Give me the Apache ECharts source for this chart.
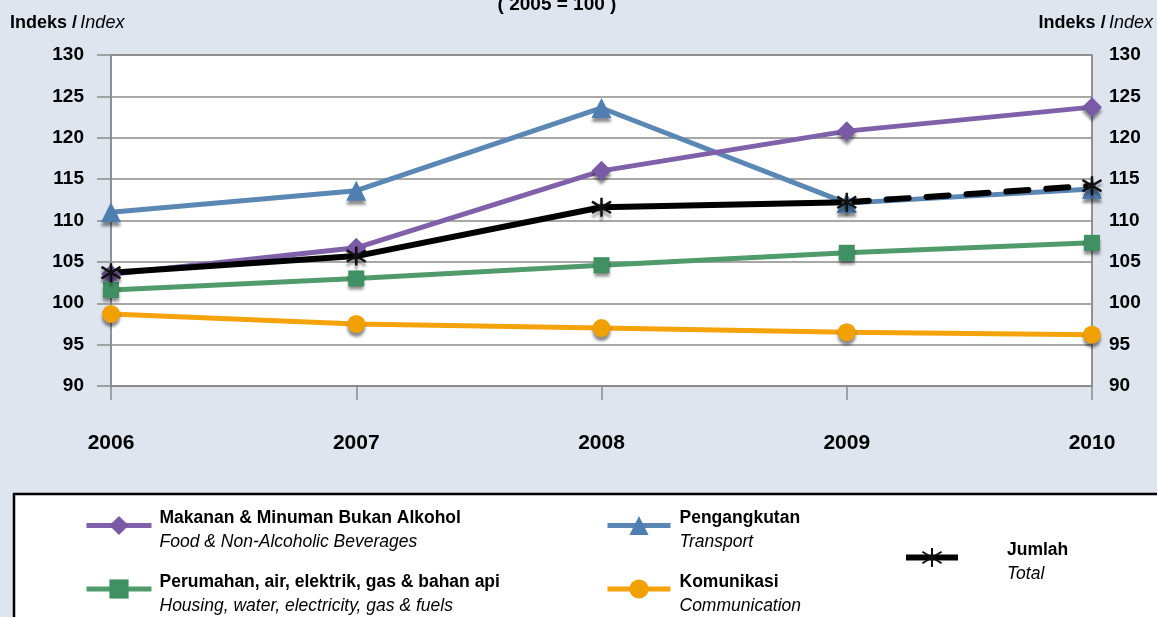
<!DOCTYPE html>
<html>
<head>
<meta charset="utf-8">
<script src="https://cdn.jsdelivr.net/npm/echarts@6/dist/echarts.min.js"></script>
<style>
html,body{margin:0;padding:0;background:#dee5ef;}
#c{width:1157px;height:617px;}
</style>
</head>
<body>
<div id="c"></div>
<script>
const categories = ['2006', '2007', '2008', '2009', '2010'];
const foodValues = [103.5, 106.7, 116.0, 120.8, 123.7];
const transportValues = [111.0, 113.6, 123.6, 112.1, 113.8];
const housingValues = [101.6, 103.0, 104.6, 106.1, 107.3];
const commValues = [98.7, 97.5, 97.0, 96.5, 96.2];
const totalValues = [103.7, 105.7, 111.6, 112.2, 114.2];
const yMin = 90, yMax = 130, yStep = 5;

const names = {
  food: 'Makanan & Minuman Bukan Alkohol',
  housing: 'Perumahan, air, elektrik, gas & bahan api',
  transport: 'Pengangkutan',
  comm: 'Komunikasi',
  total: 'Jumlah'
};
const english = {};
english[names.food] = 'Food & Non-Alcoholic Beverages';
english[names.housing] = 'Housing, water, electricity, gas & fuels';
english[names.transport] = 'Transport';
english[names.comm] = 'Communication';
english[names.total] = 'Total';

const FONT = '"Liberation Sans", Arial, sans-serif';
const shadow = {shadowColor: 'rgba(0,0,0,0.45)', shadowBlur: 3, shadowOffsetY: 4};
const starPath = 'path://M10,0L10,20M2,4L18,16M2,16L18,4';

function legendCfg(data, left, top, itemWidth, textPad) {
  return {
    data: data, orient: 'vertical', left: left, top: top, padding: 0,
    itemWidth: itemWidth, itemHeight: 24, itemGap: 13,
    lineStyle: {width: 'inherit'},
    formatter: n => '{s| }\n{b|' + n + '}\n{i|' + english[n] + '}',
    textStyle: {
      padding: [0, 0, 0, textPad],
      rich: {
        s: {fontSize: 1, lineHeight: 10},
        b: {fontFamily: FONT, fontWeight: 'bold', fontSize: 17.5, lineHeight: 24, color: '#000'},
        i: {fontFamily: FONT, fontStyle: 'italic', fontSize: 17.5, lineHeight: 24, color: '#000'}
      }
    }
  };
}

const chart = echarts.init(document.getElementById('c'), null, {renderer: 'canvas'});
chart.setOption({
  backgroundColor: '#dee5ef',
  animation: false,
  textStyle: {fontFamily: FONT},
  grid: {left: 111, right: 65, top: 55, bottom: 231, show: true, backgroundColor: '#ffffff', borderColor: '#8a8a8a', borderWidth: 1.5},
  graphic: [
    {type: 'rect', z: 0, shape: {x: 14, y: 494, width: 1200, height: 200}, style: {fill: '#ffffff', stroke: '#000', lineWidth: 2.5}},
    {type: 'text', x: 557, y: 5, style: {text: '( 2005 = 100 )', font: 'bold 19px ' + FONT, fill: '#000', align: 'center', verticalAlign: 'middle'}},
    {type: 'text', x: 10, y: 23, style: {text: '{b|Indeks /} {i|Index}', align: 'left', verticalAlign: 'middle',
      rich: {b: {fontFamily: FONT, fontWeight: 'bold', fontSize: 18, color: '#000'}, i: {fontFamily: FONT, fontStyle: 'italic', fontSize: 18, color: '#000'}}}},
    {type: 'text', x: 1153, y: 23, style: {text: '{b|Indeks /} {i|Index}', align: 'right', verticalAlign: 'middle',
      rich: {b: {fontFamily: FONT, fontWeight: 'bold', fontSize: 18, color: '#000'}, i: {fontFamily: FONT, fontStyle: 'italic', fontSize: 18, color: '#000'}}}}
  ],
  legend: [
    legendCfg([names.food, names.housing], 84, 501, 65, 3),
    legendCfg([names.transport, names.comm], 605, 501, 63, 4),
    legendCfg([names.total], 903, 533, 52, 44)
  ],
  xAxis: {
    type: 'category', data: categories, boundaryGap: false,
    axisLine: {lineStyle: {color: '#8a8a8a', width: 1.5}},
    axisTick: {show: true, length: 14, lineStyle: {color: '#8a8a8a', width: 1.5}},
    axisLabel: {margin: 47, fontSize: 21, fontWeight: 'bold', color: '#000', fontFamily: FONT}
  },
  yAxis: [
    {
      type: 'value', min: yMin, max: yMax, interval: yStep, position: 'left',
      axisLine: {show: true, lineStyle: {color: '#8a8a8a', width: 1.5}},
      axisTick: {show: true, length: 14, lineStyle: {color: '#8a8a8a', width: 1.5}},
      splitLine: {show: true, lineStyle: {color: '#8a8a8a', width: 1.5}},
      axisLabel: {margin: 27, fontSize: 19, fontWeight: 'bold', color: '#000', fontFamily: FONT}
    },
    {
      type: 'value', min: yMin, max: yMax, interval: yStep, position: 'right',
      axisLine: {show: true, lineStyle: {color: '#8a8a8a', width: 1.5}},
      axisTick: {show: false},
      splitLine: {show: false},
      axisLabel: {margin: 17, fontSize: 19, fontWeight: 'bold', color: '#000', fontFamily: FONT}
    }
  ],
  series: [
    {name: names.transport, type: 'line', data: transportValues, symbol: 'triangle', symbolSize: 20,
      lineStyle: {color: '#5b87b5', width: 5}, itemStyle: Object.assign({color: '#4f7eb0'}, shadow), color: '#5b87b5'},
    {name: names.food, type: 'line', data: foodValues, symbol: 'diamond', symbolSize: 20,
      lineStyle: {color: '#7f60a9', width: 5}, itemStyle: Object.assign({color: '#7a59a6'}, shadow), color: '#7f60a9'},
    {name: names.housing, type: 'line', data: housingValues, symbol: 'rect', symbolSize: 16,
      lineStyle: {color: '#4f9b6c', width: 5}, itemStyle: Object.assign({color: '#3f9164'}, shadow), color: '#4f9b6c'},
    {name: names.comm, type: 'line', data: commValues, symbol: 'circle', symbolSize: 18,
      lineStyle: {color: '#f5a30b', width: 5}, itemStyle: Object.assign({color: '#f0a000'}, shadow), color: '#f5a30b'},
    {name: names.total, type: 'line', data: totalValues.map((v, i) => i <= 3 ? v : null), symbol: starPath, symbolSize: 19,
      lineStyle: {color: '#000', width: 6}, itemStyle: Object.assign({color: '#000', borderColor: '#111', borderWidth: 2.5}, shadow), color: '#000'},
    {name: names.total + ' ', type: 'line', data: totalValues.map((v, i) => i >= 3 ? (i === 3 ? {value: v, symbol: 'none'} : v) : null),
      symbol: starPath, symbolSize: 19,
      lineStyle: {color: '#000', width: 6, type: [22, 18], cap: 'round'}, itemStyle: Object.assign({color: '#000', borderColor: '#111', borderWidth: 2.5}, shadow), color: '#000'}
  ]
});
</script>
</body>
</html>
